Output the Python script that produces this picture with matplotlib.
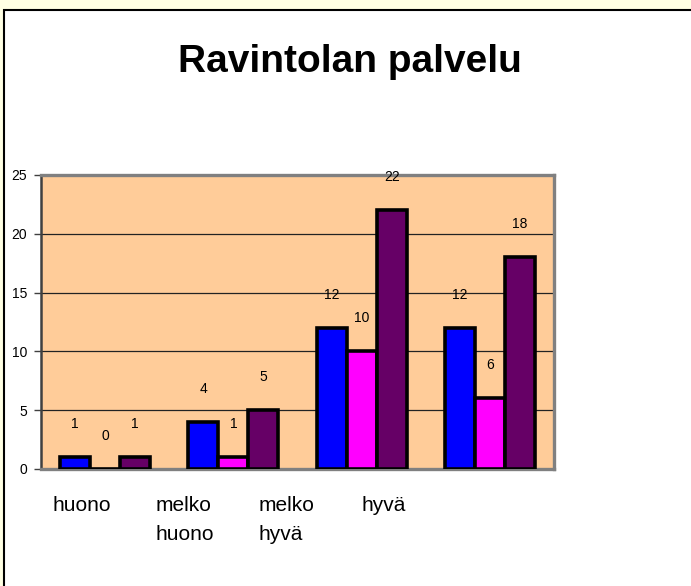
import matplotlib.pyplot as plt
import numpy as np
from matplotlib.patches import Rectangle

# chart data:
categories = ['huono', 'melko\nhuono', 'melko\nhyvä', 'hyvä']
series_a = [1, 4, 12, 12]    # blue
series_b = [0, 1, 10, 6]     # magenta
series_c = [1, 5, 22, 18]    # purple
yticks = [0, 5, 10, 15, 20, 25]

colors = ['#0000FF', '#FF00FF', '#660066']

W, H = 691, 586
fig = plt.figure(figsize=(W/100, H/100), dpi=100)
fig.patch.set_facecolor('#FFFFE3')
plt.rcParams['font.family'] = ['Liberation Sans', 'DejaVu Sans']

# white chart box with black border (runs off right/bottom):
box = Rectangle((4/W, -0.02), 1.0, (H-10)/H + 0.02, transform=fig.transFigure,
                facecolor='white', edgecolor='black', linewidth=1.5, zorder=-1)
fig.patches.append(box)

ax = fig.add_axes([41/W, 117/H, 513/W, 294/H])
ax.set_facecolor('#FFCC99')

x = np.arange(len(categories))
w = 0.234
for k, (vals, c) in enumerate(zip([series_a, series_b, series_c], colors)):
    xs = x + (k-1)*w
    ax.bar(xs, vals, w, color=c, edgecolor='black', linewidth=2.6, zorder=3)
    for xi, v in zip(xs, vals):
        ax.annotate(str(v), (xi, v), xytext=(0, 33), textcoords='offset pixels',
                    ha='center', va='center', fontsize=10, zorder=4)

ax.set_xlim(-0.5, len(categories)-0.5)
ax.set_ylim(0, 25)
ax.set_yticks(yticks)
ax.set_yticklabels([str(t) for t in yticks], fontsize=10)
ax.set_xticks([])
ax.yaxis.grid(True, color='#222222', linewidth=0.9, zorder=1)
ax.set_axisbelow(True)
ax.tick_params(axis='y', length=5, width=1, color='#404040', pad=5)

for s in ['top', 'right', 'bottom']:
    ax.spines[s].set_color('#808080')
    ax.spines[s].set_linewidth(2.4)
ax.spines['left'].set_color('#404040')
ax.spines['left'].set_linewidth(1.8)

# category labels below the plot:
for i, lab in enumerate(categories):
    fig.text((52 + 103.3*i)/W, (H-496)/H, lab, ha='left', va='top',
             fontsize=15, linespacing=1.65)

fig.text(350/W, (H-72)/H, 'Ravintolan palvelu', ha='center', va='baseline',
         fontsize=28, fontweight='bold')

fig.savefig('out.png', dpi=100, facecolor=fig.get_facecolor())
